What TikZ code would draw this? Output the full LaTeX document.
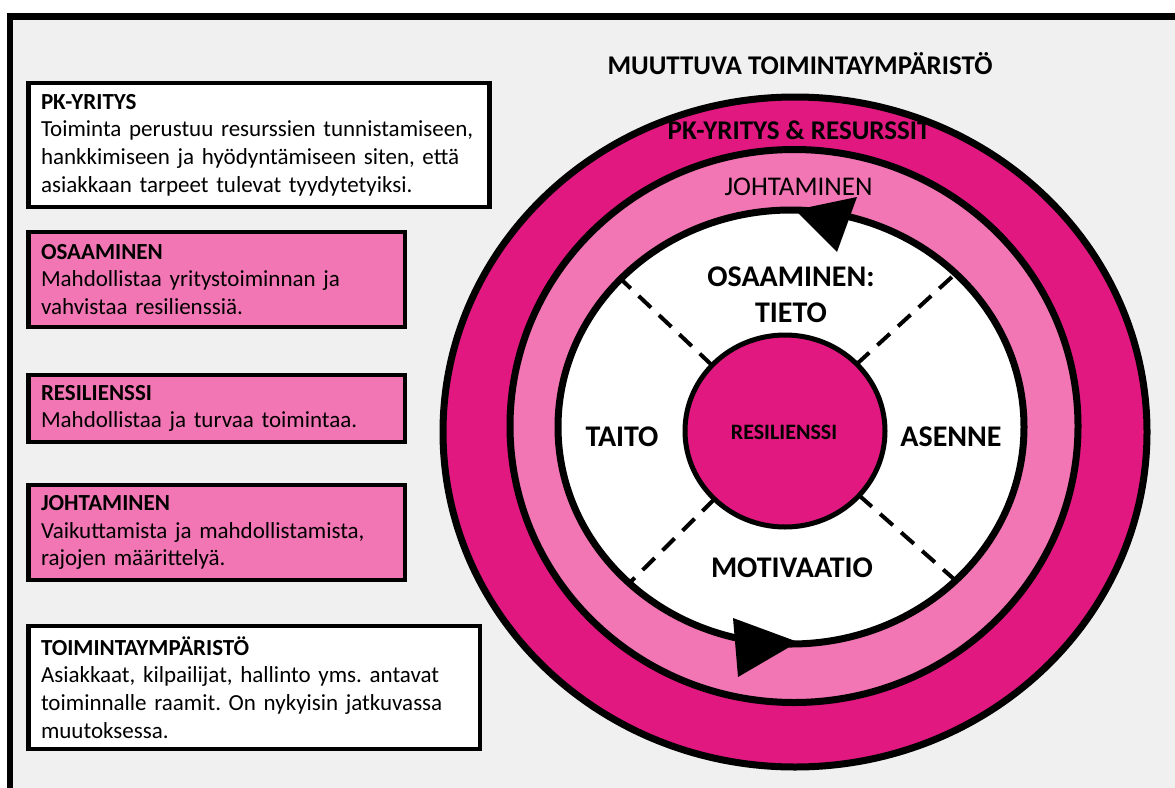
\documentclass[tikz,border=0pt]{standalone}
\usepackage{fontspec}
\setmainfont{Carlito}
\frenchspacing
\usetikzlibrary{shapes.geometric,calc}
\definecolor{ringdark}{RGB}{224,24,128}
\definecolor{ringlight}{RGB}{242,118,180}
\definecolor{panel}{RGB}{240,240,240}
\begin{document}
\begin{tikzpicture}[x=1pt,y=-1pt,
  ring/.style={ellipse,draw=black,line width=7pt,inner sep=0pt,outer sep=0pt},
  infobox/.style={rectangle,draw=black,line width=4.5pt,anchor=north west,
    inner xsep=12.5pt,inner ysep=0pt,outer sep=0pt,align=left,
    font=\fontsize{23}{27.7}\selectfont},
  whitebox/.style={infobox,fill=white},
  pinkbox/.style={infobox,fill=ringlight},
  ringlabel/.style={anchor=base,inner sep=0pt,font=\fontsize{27}{32}\selectfont\bfseries},
  sectorlabel/.style={anchor=base,inner sep=0pt,font=\fontsize{30}{36}\selectfont\bfseries},
  divider/.style={line width=4pt,dash pattern=on 17pt off 11pt},
  tip/.style={fill=black}]
\useasboundingbox (0,0) rectangle (1175,787);
\clip (0,0) rectangle (1175,787);
\fill[white] (0,0) rectangle (1175,787);
% framed panel, running off the right and bottom edges
\draw[fill=panel,line width=6.5pt] (10,16.5) rectangle (1200,810);

% explanation boxes on the left
\node[whitebox,minimum width=461pt,minimum height=124pt,text width=436pt] (pk) at (28.5,83)
  {\textbf{PK-YRITYS}\\Toiminta perustuu resurssien tunnistamiseen,\\hankkimiseen ja hyödyntämiseen siten, että\\asiakkaan tarpeet tulevat tyydytetyiksi.};
\node[pinkbox,minimum width=376.5pt,minimum height=95pt,text width=351.5pt] (osa) at (28.5,232)
  {\textbf{OSAAMINEN}\\Mahdollistaa yritystoiminnan ja\\vahvistaa resilienssiä.};
\node[pinkbox,minimum width=376.5pt,minimum height=67pt,text width=351.5pt] (resb) at (28.5,375)
  {\textbf{RESILIENSSI}\\Mahdollistaa ja turvaa toimintaa.};
\node[pinkbox,minimum width=376.5pt,minimum height=95pt,text width=351.5pt] (joh) at (28.5,485)
  {\textbf{JOHTAMINEN}\\Vaikuttamista ja mahdollistamista,\\rajojen määrittelyä.};
\node[whitebox,minimum width=451.5pt,minimum height=123pt,text width=426.5pt] (toim) at (28.5,626)
  {\textbf{TOIMINTAYMPÄRISTÖ}\\Asiakkaat, kilpailijat, hallinto yms. antavat\\toiminnalle raamit. On nykyisin jatkuvassa\\muutoksessa.};

% concentric rings
\node[ring,fill=ringdark,minimum width=704pt,minimum height=670pt] (outer) at (795,432) {};
\node[ring,fill=ringlight,minimum width=568pt,minimum height=553pt] (mid) at (794,426) {};
\node[ring,fill=white,minimum width=466pt,minimum height=434pt] (core) at (791,427) {};
\node[ellipse,draw=black,fill=ringdark,line width=5pt,inner sep=0pt,outer sep=0pt,
  minimum width=200pt,minimum height=192pt] (res) at (785,431) {};

% dashed dividers between the four sectors
\draw[divider] (res.138) -- (core.139.6);
\draw[divider] (res.43) -- (core.43.5);
\draw[divider] (res.-136) -- (core.-136.8);
\draw[divider] (res.-41) -- (core.-43);

% arrow heads on the inner circle
\fill[tip] (795,210) -- (857,197) -- (837,252) -- cycle;
\fill[tip] (798,642) -- (733,618) -- (738,677) -- cycle;

% labels
\node[ringlabel] (title) at (800,74.5) {MUUTTUVA TOIMINTAYMPÄRISTÖ};
\node[ringlabel] (pkring) at (799,139) {PK-YRITYS \& RESURSSIT};
\node[ringlabel,font=\fontsize{27}{32}\selectfont] (johring) at (798.5,195.5) {JOHTAMINEN};
\node[sectorlabel] (tieto1) at (791,286) {OSAAMINEN:};
\node[sectorlabel] (tieto2) at (791,322.5) {TIETO};
\node[sectorlabel] (taito) at (622,446.5) {TAITO};
\node[sectorlabel] (asenne) at (951,446.5) {ASENNE};
\node[sectorlabel] (motiv) at (792,577.5) {MOTIVAATIO};
\node[anchor=base,inner sep=0pt,font=\fontsize{22}{26}\selectfont\bfseries] (reslabel) at (784,439) {RESILIENSSI};
\end{tikzpicture}
\end{document}
